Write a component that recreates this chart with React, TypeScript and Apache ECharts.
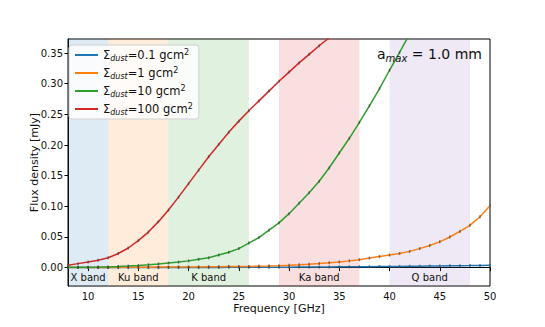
import React, { useEffect, useRef } from "react";
import * as echarts from "echarts";

const freq = [8, 9, 10, 11, 12, 13, 14, 15, 16, 17, 18, 19, 20, 21, 22, 23, 24, 25, 26, 27, 28, 29, 30, 31, 32, 33, 34, 35, 36, 37, 38, 39, 40, 41, 42, 43, 44, 45, 46, 47, 48, 49, 50];

const sigma01 = [0.00002, 0.00003, 0.00004, 0.00005, 0.00007, 0.00008, 0.0001, 0.00012, 0.00014, 0.00017, 0.0002, 0.00023, 0.00026, 0.0003, 0.00034, 0.00038, 0.00043, 0.00048, 0.00053, 0.00059, 0.00065, 0.00071, 0.00078, 0.00086, 0.00094, 0.00103, 0.00112, 0.00122, 0.00133, 0.00144, 0.00156, 0.00169, 0.00183, 0.00198, 0.00214, 0.0023, 0.00248, 0.00267, 0.00287, 0.00308, 0.0033, 0.0036, 0.0039];

const sigma1 = [0.0001, 0.0001, 0.0002, 0.0002, 0.0003, 0.0004, 0.0005, 0.0006, 0.0007, 0.0008, 0.0009, 0.001, 0.0011, 0.0012, 0.0014, 0.0015, 0.0017, 0.0018, 0.002, 0.0023, 0.0026, 0.003, 0.0037, 0.0046, 0.0056, 0.0067, 0.0079, 0.0093, 0.011, 0.013, 0.0155, 0.018, 0.0205, 0.023, 0.0265, 0.031, 0.036, 0.042, 0.05, 0.059, 0.069, 0.083, 0.101];

const sigma10 = [0.0004, 0.0005, 0.0007, 0.0009, 0.0012, 0.0018, 0.0025, 0.0035, 0.0047, 0.006, 0.0075, 0.009, 0.011, 0.0135, 0.016, 0.0205, 0.025, 0.031, 0.04, 0.049, 0.061, 0.073, 0.088, 0.105, 0.122, 0.141, 0.163, 0.187, 0.211, 0.237, 0.264, 0.292, 0.322, 0.351, 0.381, 0.411, null, null, null, null, null, null, null];

const sigma100 = [0.004, 0.0065, 0.009, 0.012, 0.016, 0.023, 0.032, 0.044, 0.058, 0.075, 0.094, 0.115, 0.137, 0.159, 0.181, 0.201, 0.221, 0.239, 0.256, 0.272, 0.288, 0.304, 0.319, 0.334, 0.348, 0.362, 0.375, 0.388, null, null, null, null, null, null, null, null, null, null, null, null, null, null, null];

const seriesValues = ["0.1", "1", "10", "100"];
const seriesColors = ["#1f77b4", "#ff7f0e", "#2ca02c", "#d62728"];

const bandNames = ["X band", "Ku band", "K band", "Ka band", "Q band"];
const bandStart = [8, 12, 18, 29, 40];
const bandEnd = [12, 18, 26, 37, 48];
const bandColors = [
  "rgba(31,119,180,0.15)",
  "rgba(255,127,14,0.15)",
  "rgba(44,160,44,0.15)",
  "rgba(214,39,40,0.15)",
  "rgba(148,103,189,0.15)",
];

const xTicks = [10, 15, 20, 25, 30, 35, 40, 45, 50];
const yTicks = [0, 0.05, 0.1, 0.15, 0.2, 0.25, 0.3, 0.35];

const FONT = "DejaVu Sans";

export default function App() {
  const ref = useRef<HTMLDivElement>(null);
  useEffect(() => {
    if (!ref.current) return;
    const chart = echarts.init(ref.current, null, { renderer: "svg" });
    const allSeries = [sigma01, sigma1, sigma10, sigma100];
    const names = seriesValues.map((v) => `S${v}`);
    const lineSeries = allSeries.map((vals, i) => ({
      name: names[i],
      type: "line",
      z: 3,
      data: freq
        .map((f, j) => [f, vals[j]])
        .filter((p) => p[1] !== null),
      lineStyle: { color: seriesColors[i], width: 1.5 },
      itemStyle: { color: "rgba(70,70,70,0.7)" },
      symbol: "rect",
      symbolSize: [1.5, 3],
      showSymbol: true,
      clip: true,
      color: seriesColors[i],
    }));
    const bandSeries = {
      name: "bands",
      type: "line",
      z: 1,
      data: [],
      markArea: {
        silent: true,
        data: bandNames.map((n, i) => [
          {
            name: n,
            xAxis: bandStart[i],
            itemStyle: { color: bandColors[i] },
            label: {
              show: true,
              position: "insideBottom",
              distance: 4,
              color: "#111",
              fontSize: 10,
              fontFamily: FONT,
            },
          },
          { xAxis: bandEnd[i] },
        ]),
      },
    };
    const seriesMap: Record<string, string> = {};
    names.forEach((n, i) => (seriesMap[n] = seriesValues[i]));
    chart.setOption({
      animation: false,
      textStyle: { fontFamily: FONT },
      grid: {
        left: 68,
        right: 55,
        top: 39,
        bottom: 41,
        show: true,
        borderColor: "#000",
        borderWidth: 1,
        backgroundColor: "transparent",
      },
      legend: {
        data: names.map((n, i) => ({ name: n, itemStyle: { color: seriesColors[i] } })),
        orient: "vertical",
        left: 69,
        top: 45,
        icon: "rect",
        itemWidth: 23,
        itemHeight: 2,
        itemGap: 4,
        padding: [3, 6, 3, 6],
        backgroundColor: "rgba(255,255,255,0.8)",
        borderColor: "#d0d0d0",
        borderWidth: 1,
        borderRadius: 3,
        formatter: (name: string) =>
          `{s|Σ}{d|dust}{t|=${seriesMap[name]} gcm}{p|2}`,
        textStyle: {
          fontFamily: FONT,
          color: "#111",
          rich: {
            s: { fontSize: 11.5, lineHeight: 14, fontFamily: FONT, color: "#111" },
            d: { fontSize: 8, lineHeight: 9, fontStyle: "italic", verticalAlign: "bottom", fontFamily: FONT, color: "#111" },
            t: { fontSize: 11.5, lineHeight: 14, fontFamily: FONT, color: "#111" },
            p: { fontSize: 8, lineHeight: 9, verticalAlign: "top", fontFamily: FONT, color: "#111" },
          },
        },
      },
      xAxis: {
        type: "value",
        min: 8,
        max: 50,
        name: "Frequency [GHz]",
        nameLocation: "middle",
        nameGap: 17,
        nameMoveOverlap: false,
        nameTextStyle: { fontSize: 11, color: "#111", fontFamily: FONT },
        axisLine: { show: true, lineStyle: { color: "#000" } },
        axisTick: { show: true, length: 3.5, lineStyle: { color: "#000" }, customValues: xTicks },
        axisLabel: { fontSize: 10, color: "#111", margin: 5, customValues: xTicks, fontFamily: FONT },
        splitLine: { show: false },
      },
      yAxis: {
        type: "value",
        min: -0.03,
        max: 0.373,
        name: "Flux density [mJy]",
        nameLocation: "middle",
        nameGap: 28,
        nameMoveOverlap: false,
        nameTextStyle: { fontSize: 11, color: "#111", fontFamily: FONT },
        axisLine: { show: true, lineStyle: { color: "#000" } },
        axisTick: { show: true, length: 3.5, lineStyle: { color: "#000" }, customValues: yTicks },
        axisLabel: {
          fontSize: 10,
          color: "#111",
          margin: 5,
          customValues: yTicks,
          fontFamily: FONT,
          formatter: (v: number) => v.toFixed(2),
        },
        splitLine: { show: false },
      },
      graphic: [
        {
          type: "text",
          left: 377,
          top: 47,
          z: 10,
          style: {
            text: "{a|a}{m|max}{a| = 1.0 mm}",
            rich: {
              a: { fontSize: 14, lineHeight: 18, fontFamily: FONT, fill: "#111" },
              m: { fontSize: 10, lineHeight: 12, fontStyle: "italic", verticalAlign: "bottom", fontFamily: FONT, fill: "#111" },
            },
          },
        },
      ],
      series: [bandSeries, ...lineSeries],
    });
    return () => chart.dispose();
  }, []);
  return (
    <div
      ref={ref}
      style={{ position: "absolute", left: 0, top: 0, width: 545, height: 327 }}
    />
  );
}
